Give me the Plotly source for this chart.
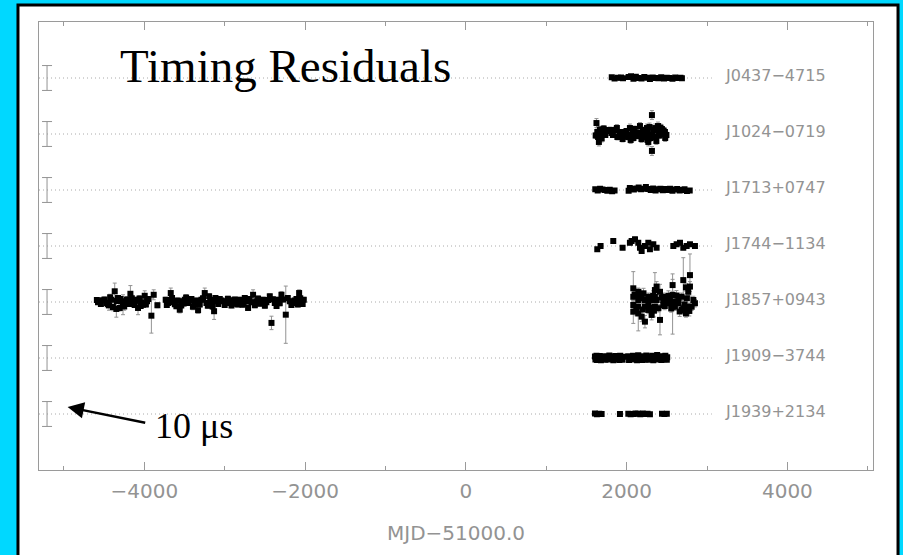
import plotly.graph_objects as go

# ---------------- data (MJD-51000, residual in microseconds, error) ----------------
pulsar_names = ["J0437\u22124715", "J1024\u22120719", "J1713+0747", "J1744\u22121134",
                "J1857+0943", "J1909\u22123744", "J1939+2134"]

j0437 = [(1815, 0.3, 0.3), (1850, -0.2, 0.3), (1890, 0.1, 0.3), (1930, 0.2, 0.3), (1955, -0.1, 0.3),
         (2025, 0.4, 0.3), (2055, 0.7, 0.4), (2085, -0.3, 0.3), (2115, 0.5, 0.3), (2150, 0.0, 0.3),
         (2185, -0.2, 0.3), (2220, 0.4, 0.3), (2255, 0.1, 0.3), (2290, -0.4, 0.3), (2325, 0.2, 0.3),
         (2360, 0.0, 0.3), (2395, -0.1, 0.3), (2430, 0.3, 0.3), (2465, -0.2, 0.3), (2500, 0.1, 0.3),
         (2535, 0.0, 0.3), (2570, -0.3, 0.3), (2605, 0.2, 0.3), (2640, 0.0, 0.3), (2670, 0.1, 0.3),
         (2688, -0.1, 0.3)]

j1024 = [(1615, -0.6, 1.2), (1625, 4.4, 1.8), (1635, 0.8, 1.2), (1645, -1.2, 1.2), (1655, -3.2, 1.6),
         (1668, 1.8, 1.2), (1690, -1.8, 1.4), (1700, 0.4, 1.0), (1715, 2.2, 1.2), (1730, 1.6, 1.0),
         (1735, -0.4, 1.0), (1760, 1.2, 1.0), (1792, 1.6, 1.2), (1810, 0.4, 1.0), (1830, -0.4, 1.0),
         (1850, 1.6, 1.2), (1879, 2.4, 1.4), (1885, -1.2, 1.2), (1910, 0.2, 1.0), (1942, 0.8, 1.0),
         (1950, -2.0, 1.2), (1965, -1.0, 1.2), (1979, 0.8, 1.2), (2000, 1.2, 1.0), (2020, -1.2, 1.2),
         (2041, 2.4, 1.6), (2045, -0.4, 1.2), (2050, -2.4, 1.4), (2078, 0.8, 1.2), (2085, -1.6, 1.2),
         (2100, 2.0, 1.2), (2120, 0.6, 1.0), (2140, -0.8, 1.2), (2166, 3.2, 1.4), (2170, 0.4, 1.2),
         (2185, -2.0, 1.4), (2203, 1.6, 1.2), (2210, -1.2, 1.4), (2230, 1.2, 1.2), (2253, 2.4, 1.6),
         (2258, -0.4, 1.2), (2260, -2.4, 1.4), (2265, 0.8, 1.2), (2270, -3.2, 1.6), (2285, 2.8, 1.6),
         (2295, -1.6, 1.4), (2315, 7.6, 1.8), (2315, -6.8, 1.8), (2318, -0.4, 1.6), (2335, 1.6, 1.2),
         (2352, -1.2, 1.4), (2355, 2.4, 1.6), (2370, -2.8, 1.4), (2390, 3.2, 1.6), (2395, 0.8, 1.2),
         (2410, -0.6, 1.2), (2420, 2.6, 1.4), (2439, 2.0, 1.2), (2444, 0.0, 1.2), (2460, 1.4, 1.2),
         (2477, 0.8, 1.2), (2480, -1.6, 1.4), (2495, -0.4, 1.2)]

j1713 = [(1610, 0.3, 0.5), (1640, -0.2, 0.5), (1670, 0.5, 0.6), (1700, 0.2, 0.4), (1730, 0.0, 0.4),
         (1760, -0.3, 0.4), (1790, 0.1, 0.4), (1820, -0.5, 0.5), (1850, -0.2, 0.4), (2025, -0.3, 0.5),
         (2040, 0.8, 0.6), (2060, 0.4, 0.5), (2090, 0.2, 0.4), (2120, 0.6, 0.5), (2150, 1.0, 0.5),
         (2180, 0.3, 0.4), (2210, 0.5, 0.4), (2240, 1.2, 0.5), (2270, 0.4, 0.4), (2300, 0.0, 0.4),
         (2330, 0.6, 0.4), (2360, -0.2, 0.4), (2390, 0.3, 0.4), (2420, 0.5, 0.5), (2450, -0.1, 0.4),
         (2480, 0.4, 0.4), (2510, 0.0, 0.4), (2540, 0.5, 0.5), (2570, -0.3, 0.4), (2600, 0.2, 0.4),
         (2630, 0.4, 0.5), (2660, -0.2, 0.4), (2690, 0.0, 0.4), (2720, 0.3, 0.4), (2750, -0.4, 0.5),
         (2785, -0.2, 0.4)]

j1744 = [(1635, -1.3, 0.6), (1676, 0.0, 0.6), (1834, 2.0, 0.7), (1950, -0.7, 0.8), (2041, 1.3, 0.8),
         (2062, 2.0, 0.8), (2104, 2.7, 0.9), (2145, 1.3, 0.8), (2166, -0.7, 0.8), (2187, -2.0, 0.9),
         (2228, 0.0, 0.8), (2270, 1.3, 0.8), (2290, -1.3, 0.8), (2332, 0.7, 0.8), (2373, -0.7, 0.8),
         (2581, 0.0, 0.8), (2622, 0.7, 0.8), (2664, 1.3, 0.8), (2705, -0.7, 0.8), (2747, 0.0, 0.8),
         (2788, 0.7, 0.7), (2850, 0.0, 0.6)]

j1857 = [(-4590, 0.8, 0.9), (-4576, -0.1, 0.9), (-4555, 0.3, 0.9), (-4540, -0.8, 0.9), (-4514, 0.7, 0.9),
         (-4495, 1.0, 1.0), (-4472, -0.4, 0.9), (-4455, -0.9, 1.5), (-4439, -1.3, 2.0), (-4425, 1.9, 1.2),
         (-4410, 0.9, 1.0), (-4390, -2.0, 1.5), (-4368, 4.3, 3.3), (-4348, -2.8, 3.3), (-4340, 0.4, 1.0),
         (-4327, 1.6, 1.0), (-4306, -2.4, 1.2), (-4295, 1.2, 1.0), (-4285, 0.3, 1.0), (-4265, -1.1, 4.0),
         (-4250, -1.8, 1.5), (-4232, -0.1, 1.0), (-4215, 1.0, 1.0), (-4202, 0.9, 1.0), (-4185, -0.8, 1.0),
         (-4173, 3.3, 3.3), (-4155, 1.5, 1.2), (-4140, 0.3, 1.0), (-4120, -1.2, 1.0), (-4105, 0.5, 1.0),
         (-4090, 0.9, 1.0), (-4078, -2.4, 2.7), (-4060, 1.4, 1.2), (-4045, -1.6, 1.0), (-4036, -0.1, 1.0),
         (-4016, -1.1, 1.0), (-3995, 2.5, 2.0), (-3980, -1.0, 1.0), (-3966, 0.3, 1.0), (-3950, 1.2, 1.0),
         (-3912, -5.5, 7.0), (-3883, 2.9, 2.0), (-3837, -1.3, 1.0),
         (-3734, 0.9, 1.0), (-3720, -1.2, 1.0), (-3705, -0.4, 1.0), (-3690, 0.8, 1.0), (-3671, 3.6, 2.0),
         (-3655, 1.6, 1.0), (-3642, -0.1, 1.0), (-3620, -0.9, 1.0), (-3601, -1.7, 1.0), (-3585, 0.6, 1.0),
         (-3559, -3.1, 1.3), (-3540, -1.4, 1.0), (-3526, 0.3, 1.0), (-3510, -0.6, 1.0), (-3497, 0.9, 1.0),
         (-3480, 1.8, 1.2), (-3456, -0.4, 1.0), (-3440, 0.5, 1.0), (-3414, 1.2, 1.0), (-3395, -1.9, 1.2),
         (-3373, -1.1, 1.0), (-3355, 0.6, 1.0), (-3331, -3.3, 1.2), (-3310, -1.0, 1.0), (-3290, 0.9, 1.0),
         (-3270, 1.5, 1.0), (-3248, 3.6, 2.0), (-3227, -0.4, 1.0), (-3210, -1.5, 1.0), (-3194, 2.3, 1.0),
         (-3180, 0.9, 1.0), (-3165, -0.1, 1.0), (-3150, -1.8, 1.2), (-3132, -3.7, 3.3), (-3115, 1.6, 1.0),
         (-3103, 0.3, 1.0), (-3080, -0.8, 1.0), (-3061, 1.2, 1.0), (-3040, 0.6, 1.0), (-3020, 0.3, 1.0),
         (-3000, -1.2, 1.0), (-2978, -0.4, 1.0), (-2960, 1.3, 1.0), (-2937, 0.7, 1.0), (-2915, -1.4, 1.0),
         (-2896, -0.7, 1.0), (-2875, 1.0, 1.0), (-2854, 0.3, 1.0), (-2835, -1.0, 1.0), (-2813, 0.9, 1.0),
         (-2795, 0.6, 1.0), (-2779, -1.1, 1.0), (-2765, -0.5, 1.0), (-2750, 1.6, 1.0), (-2730, 0.2, 1.0),
         (-2709, -2.4, 1.0), (-2690, 1.2, 1.0), (-2667, -0.1, 1.0), (-2647, 2.9, 2.0), (-2625, -1.3, 1.0),
         (-2605, 0.3, 1.0), (-2585, 1.4, 1.0), (-2564, -0.7, 1.0), (-2545, -0.3, 1.0), (-2522, 0.9, 1.0),
         (-2500, -1.5, 1.0), (-2481, -0.1, 1.0), (-2460, 0.8, 1.0), (-2439, 2.3, 1.0), (-2418, -8.4, 2.7),
         (-2400, 1.1, 1.0), (-2377, -0.4, 1.0), (-2355, -1.6, 1.0), (-2335, 0.9, 1.0), (-2315, -0.5, 1.0),
         (-2294, 2.9, 1.3), (-2270, 1.0, 1.0), (-2240, -5.1, 11.5), (-2215, 1.6, 1.0), (-2190, 0.3, 1.0),
         (-2170, -1.2, 1.0), (-2149, -0.4, 1.0), (-2130, 0.6, 1.0), (-2107, 1.2, 1.0), (-2090, -1.0, 1.0),
         (-2074, 3.6, 1.3), (-2060, 1.5, 1.0), (-2045, 0.3, 1.0), (-2030, -0.8, 1.0), (-2016, 0.9, 1.0),
         (2083, 5.5, 6.7), (2083, 2.1, 1.5), (2083, -1.2, 1.5), (2083, -3.9, 4.7), (2100, 3.0, 2.5),
         (2120, -2.5, 3.0), (2145, 4.1, 1.5), (2145, 0.8, 1.5), (2145, -1.9, 1.5), (2145, -4.6, 7.0),
         (2165, 2.8, 2.0), (2187, 1.5, 1.5), (2187, -5.9, 2.0), (2200, -3.0, 2.5), (2210, 3.5, 2.0),
         (2228, 0.8, 1.5), (2228, -1.9, 1.5), (2228, -7.9, 2.5), (2250, 1.0, 1.5), (2270, 2.1, 1.5),
         (2270, -0.5, 1.5), (2270, -3.2, 1.5), (2290, -2.2, 2.0), (2311, 0.8, 1.5), (2311, -5.2, 2.0),
         (2330, 2.5, 2.0), (2340, -3.5, 2.5), (2352, 4.8, 7.0), (2352, 2.1, 1.5), (2352, -1.9, 1.5),
         (2373, 6.2, 2.0), (2373, 0.8, 1.5), (2395, -2.5, 1.5), (2415, 4.1, 3.0), (2415, -7.2, 6.0),
         (2435, 1.8, 1.5), (2456, 0.8, 1.5), (2456, -1.2, 1.5), (2456, 2.1, 1.5), (2475, -1.6, 1.5),
         (2498, 0.1, 1.5), (2498, 1.5, 1.5), (2520, 2.5, 2.0), (2539, 0.8, 1.5), (2539, -0.5, 1.5),
         (2555, -2.6, 1.5), (2572, 6.8, 4.5), (2572, 2.8, 1.5), (2572, -1.9, 11.0), (2601, -1.9, 1.5),
         (2601, 0.1, 1.5), (2620, 2.6, 2.0), (2643, -0.5, 1.5), (2643, 0.8, 1.5), (2660, -3.8, 2.0),
         (2684, 2.1, 1.5), (2684, -3.2, 1.5), (2705, 8.8, 9.0), (2705, -2.5, 1.5), (2720, -1.0, 1.5),
         (2738, 5.9, 1.5), (2738, -3.2, 1.5), (2738, -4.6, 1.5), (2750, 1.5, 2.0), (2767, 4.1, 1.5),
         (2767, -1.9, 1.5), (2780, -3.6, 2.0), (2788, 10.8, 8.5), (2788, 6.2, 2.0), (2809, -1.9, 1.5),
         (2830, 0.8, 1.5), (2850, -0.5, 1.5)]

j1909 = [(1606, 0.6, 0.4), (1612, -0.6, 0.4), (1625, 0.9, 0.4), (1632, -0.8, 0.4), (1645, 0.3, 0.4),
         (1655, -0.5, 0.4), (1665, 0.8, 0.4), (1680, -0.9, 0.4), (1690, 0.4, 0.4), (1710, -0.3, 0.4),
         (1722, 0.7, 0.4), (1735, -0.7, 0.4), (1760, 0.5, 0.4), (1772, -0.6, 0.4), (1785, 1.0, 0.4),
         (1810, -0.4, 0.4), (1822, 0.6, 0.4), (1835, -0.9, 0.4), (1860, 0.8, 0.4), (1870, -0.5, 0.4),
         (1885, 0.4, 0.4), (1910, -0.8, 0.4), (1920, 0.9, 0.4), (1935, -0.3, 0.4), (1955, 0.5, 0.4),
         (1950, -0.7, 0.4), (2021, 0.7, 0.4), (2030, -0.8, 0.4), (2045, 0.2, 0.4), (2070, -0.6, 0.4),
         (2080, 0.9, 0.4), (2095, -0.3, 0.4), (2120, 0.6, 0.4), (2130, -0.9, 0.4), (2145, 1.1, 0.4),
         (2170, -0.5, 0.4), (2180, 0.7, 0.4), (2195, -0.8, 0.4), (2220, 0.4, 0.4), (2232, -0.6, 0.4),
         (2245, 1.0, 0.4), (2270, -0.7, 0.4), (2282, 0.6, 0.4), (2295, -0.4, 0.4), (2320, 0.9, 0.4),
         (2332, -0.9, 0.4), (2345, 0.3, 0.4), (2370, -0.6, 0.4), (2380, 1.2, 0.4), (2395, -0.2, 0.4),
         (2420, 0.7, 0.4), (2432, -0.8, 0.4), (2445, 0.5, 0.4), (2470, -0.5, 0.4), (2482, 0.9, 0.4),
         (2500, -0.7, 0.4), (2505, 0.3, 0.4)]

j1939 = [(1606, 0.2, 0.2), (1630, -0.1, 0.2), (1660, 0.1, 0.2), (1689, 0.0, 0.2), (1917, 0.0, 0.2),
         (2021, 0.1, 0.2), (2050, -0.1, 0.2), (2080, 0.0, 0.2), (2110, 0.2, 0.2), (2140, 0.1, 0.2),
         (2170, -0.1, 0.2), (2200, 0.2, 0.2), (2230, 0.0, 0.2), (2260, 0.1, 0.2), (2290, -0.1, 0.2),
         (2440, 0.1, 0.2), (2470, 0.0, 0.2), (2500, 0.1, 0.2)]

pulsar_data = [j0437, j1024, j1713, j1744, j1857, j1909, j1939]

scale_bar_us = 10.0          # length of the reference bar
x_tick_vals = [-4000, -2000, 0, 2000, 4000]

# ---------------- layout constants ----------------
X_RANGE = [-5310, 5065]
ROW_STEP = 22.5               # microseconds between pulsar baselines
Y_RANGE = [0, ROW_STEP * 8]
DOT_END = 3060                # dotted guide lines stop before the labels
LABEL_X = 3200
SCALE_X = -5210
GRAY = "#939393"
FRAME = "#9a9a9a"

fig = go.Figure()

n = len(pulsar_names)
for i, (name, data) in enumerate(zip(pulsar_names, pulsar_data)):
    base = ROW_STEP * (n - i)
    fig.add_trace(go.Scatter(x=[X_RANGE[0], DOT_END], y=[base, base], mode="lines",
                             line=dict(color="#aaaaaa", width=1, dash="1px,3px"),
                             hoverinfo="skip"))
    fig.add_trace(go.Scatter(x=[SCALE_X], y=[base], mode="markers",
                             marker=dict(size=1, color="rgba(0,0,0,0)"),
                             error_y=dict(type="constant", value=scale_bar_us / 2,
                                          color=GRAY, thickness=1, width=5),
                             hoverinfo="skip"))
    xs = [d[0] for d in data]
    ys = [base + d[1] for d in data]
    es = [d[2] for d in data]
    fig.add_trace(go.Scatter(x=xs, y=ys, mode="markers",
                             marker=dict(symbol="square", size=6, color="black"),
                             error_y=dict(type="data", array=es, color=GRAY,
                                          thickness=1, width=2),
                             name=name))
    fig.add_annotation(x=LABEL_X, y=base + 1.2, text=name, showarrow=False,
                       xanchor="left", yanchor="middle",
                       font=dict(family="DejaVu Sans", size=16, color=GRAY))

fig.add_annotation(xref="paper", yref="paper", x=0.0947, y=0.9018, text="Timing Residuals",
                   showarrow=False, xanchor="left", yanchor="middle",
                   font=dict(family="Liberation Serif", size=47, color="black"))
fig.add_annotation(xref="paper", yref="paper", x=0.1367, y=0.098, text="10 \u03bcs",
                   showarrow=False, xanchor="left", yanchor="middle",
                   font=dict(family="Liberation Serif", size=36, color="black"))
fig.add_annotation(x=-4954, y=ROW_STEP + 2.8, ax=-3970, ay=ROW_STEP - 3.6,
                   axref="x", ayref="y", text="", showarrow=True,
                   arrowhead=2, arrowsize=1.3, arrowwidth=2.5, arrowcolor="black")

fig.add_shape(type="rect", xref="paper", yref="paper",
              x0=-0.0252, x1=1.030, y0=-0.4, y1=1.038,
              fillcolor="white", line=dict(color="black", width=3), layer="below")

fig.update_layout(
    width=903, height=555,
    margin=dict(l=39, r=30, t=22, b=85),
    paper_bgcolor="#00D8FF", plot_bgcolor="white",
    showlegend=False,
    xaxis=dict(range=X_RANGE, tickmode="array", tickvals=x_tick_vals,
               ticks="inside", ticklen=8, tickcolor=FRAME, tickwidth=1,
               showline=True, linecolor=FRAME, linewidth=1, mirror="ticks",
               showgrid=False, zeroline=False,
               tickfont=dict(family="DejaVu Sans", size=20, color=GRAY),
               ticklabelstandoff=3,
               minor=dict(dtick=1000, tick0=0, ticks="inside", ticklen=4,
                          tickcolor=FRAME, showgrid=False),
               title=dict(text="MJD\u221251000.0", standoff=23,
                          font=dict(family="DejaVu Sans", size=20, color=GRAY))),
    yaxis=dict(range=Y_RANGE, showline=True, linecolor=FRAME, linewidth=1, mirror=True,
               showticklabels=False, ticks="", showgrid=False, zeroline=False),
)

fig.write_html("out.html", config={"displayModeBar": False},
               post_script="document.body.style.margin='0';document.body.style.overflow='hidden';")
